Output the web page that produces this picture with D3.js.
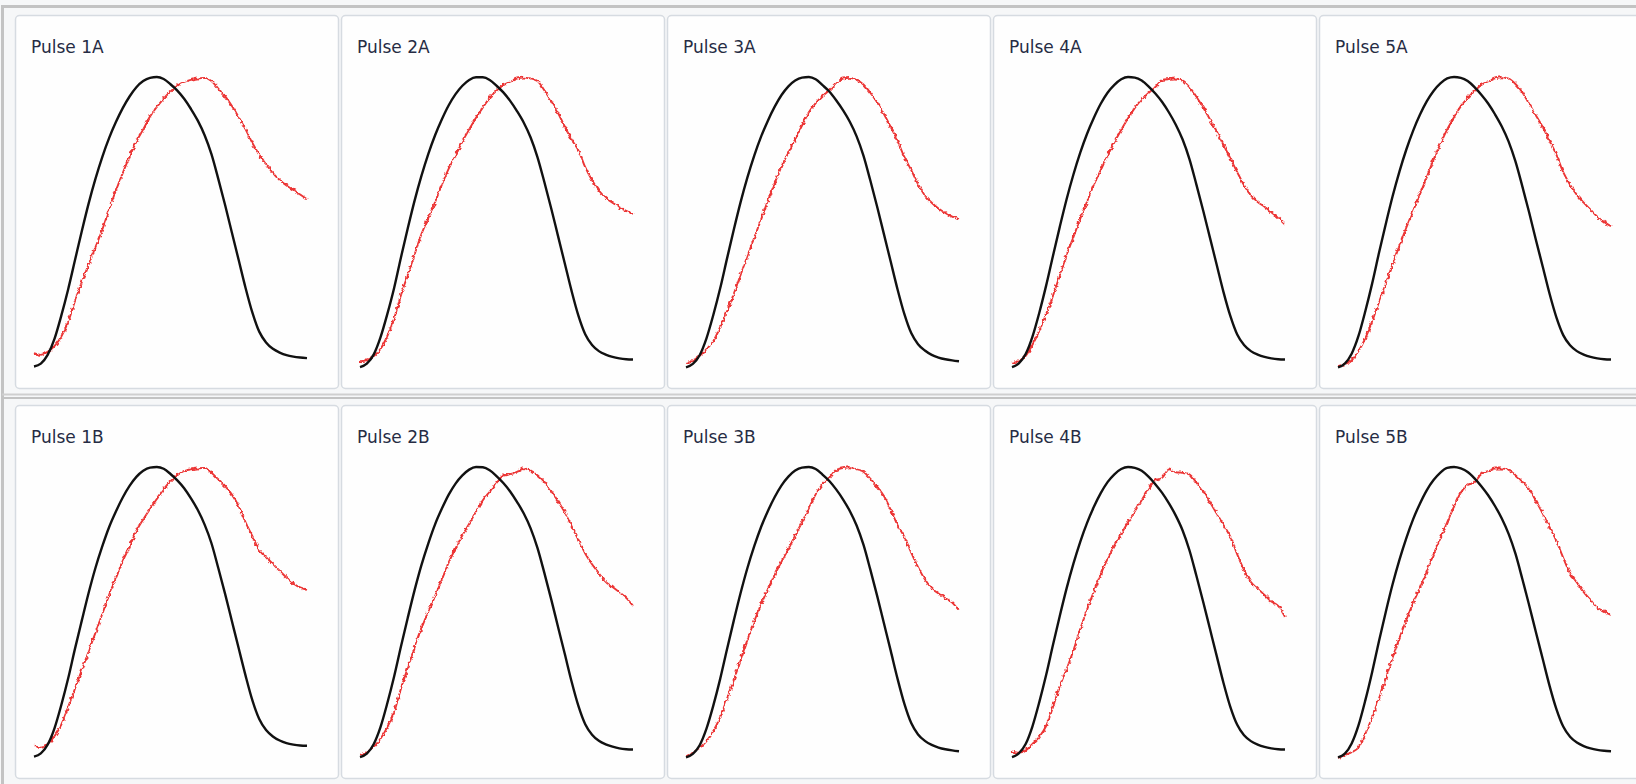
<!DOCTYPE html>
<html>
<head>
<meta charset="utf-8">
<script src="https://cdn.jsdelivr.net/npm/d3@7"></script>
<style>
  html, body { margin: 0; padding: 0; background: #f6f7f8; overflow: hidden; }
  svg { display: block; }
</style>
</head>
<body>
<svg id="chart" width="1636" height="784"></svg>
<script>
// Sample positions along each pulse (percent of the capture window)
const samples = [0,2.5,5,7.5,10,12.5,15,17.5,20,22.5,25,27.5,30,32.5,35,37.5,40,42.5,45,47.5,
                 50,52.5,55,57.5,60,62.5,65,67.5,70,72.5,75,77.5,80,82.5,85,87.5,90,92.5,95,97.5,100];

const panelNames = ["Pulse 1A","Pulse 2A","Pulse 3A","Pulse 4A","Pulse 5A",
                    "Pulse 1B","Pulse 2B","Pulse 3B","Pulse 4B","Pulse 5B"];

// Reference pulse (black), normalised amplitude 0–100
const black1A = [0.5,1.5,4.5,10,18,27,37,47,56.5,65,72.5,79,84.5,89.3,93.3,96.5,98.6,99.7,100,99.3,97.5,95.3,92.5,89,85,80,73.5,65,56,46.5,37,27.5,19,12.5,8.8,6.6,5.3,4.4,3.9,3.6,3.4];
const black2A = [0.3,1.5,4.6,10.5,18.5,27.5,38,48,57.5,66,73.5,80,85.5,90.3,94.1,97,99,99.9,99.9,99,97,94.7,91.8,88.3,84.3,79.2,72.5,64,55,45.5,36,26.5,18,11.6,7.9,5.8,4.6,3.8,3.3,3.0,2.9];
const black3A = [0.2,1.4,4.4,10.2,18.2,27.3,37.5,47.5,57,65.5,73,79.5,85,89.8,93.8,96.8,98.8,99.8,100,99.2,97.2,95,92,88.6,84.6,79.6,73,64.5,55.5,46,36.5,27,18.5,12,8.2,6,4.5,3.6,3,2.6,2.3];
const black4A = [0.3,1.6,4.8,10.8,19,28.3,38.5,48.5,58,66.5,74,80.5,86,90.8,94.6,97.3,99.2,100,99.8,98.8,96.8,94.3,91.4,87.8,83.6,78.5,71.8,63.2,54.2,44.8,35.4,26,17.8,11.5,7.9,5.8,4.6,3.8,3.3,3.0,2.9];
const black5A = [0.2,1.5,4.9,11,19.5,29,39.5,49.5,59,67.5,75,81.5,87,91.6,95.2,97.8,99.5,100,99.7,98.6,96.5,93.9,90.9,87.2,83,77.8,71,62.5,53.5,44,34.8,25.5,17.4,11.3,7.8,5.8,4.6,3.8,3.3,3.0,2.9];
const black1B = [0.5,1.6,4.6,10.2,18.2,27.3,37.5,47.2,56.7,65.3,72.7,79.3,84.7,89.5,93.5,96.6,98.7,99.8,100,99.4,97.6,95.4,92.7,89.2,85.2,80.2,73.8,65.3,56.4,47,37.6,28.3,19.8,13.4,9.6,7.4,6,5.1,4.6,4.3,4.2];
const black2B = [0.3,1.5,4.7,10.6,18.8,28,38.3,48.2,57.7,66.3,73.7,80.3,85.7,90.5,94.3,97.1,99.1,100,99.9,98.9,96.9,94.5,91.6,88,84,78.9,72.2,63.7,54.7,45.2,35.8,26.3,17.9,11.6,8,5.9,4.7,3.9,3.3,3.0,2.9];
const black3B = [0.2,1.4,4.4,10.1,18,27.1,37.3,47.2,56.7,65.3,72.8,79.4,84.9,89.7,93.7,96.7,98.8,99.8,100,99.3,97.4,95.2,92.3,88.9,84.9,79.9,73.3,64.8,55.8,46.3,36.8,27.2,18.6,12,8.1,5.9,4.5,3.6,3,2.6,2.3];
const black4B = [0.3,1.6,4.8,10.9,19.2,28.5,38.8,48.8,58.3,66.8,74.3,80.8,86.3,91,94.8,97.5,99.3,100,99.7,98.7,96.7,94.1,91.1,87.5,83.3,78.2,71.4,62.8,53.8,44.4,35,25.7,17.5,11.4,7.8,5.8,4.6,3.8,3.3,3.0,2.9];
const black5B = [0.2,1.5,5,11.2,19.8,29.5,40.1,50.2,59.7,68.1,75.5,82,87.4,92,95.5,98.1,99.7,100,99.5,98.3,96.1,93.4,90.3,86.6,82.3,77,70.2,61.6,52.6,43.2,34,24.8,16.8,10.8,7.3,5.3,4.1,3.3,2.8,2.5,2.3];

// Measured response (red), normalised amplitude 0–100
const red1A = [5.1,4.5,5.6,7.5,10.8,15.8,23,29.5,35.5,41.5,47.5,54.5,61,67,72.6,77.8,82,86.4,89.7,92.6,95,97,98.3,99,99.5,99.7,98.6,96,93.4,90,86.2,82,77.3,73.3,70,67,64.6,62.7,61.2,59.6,58];
const red2A = [2.3,2.7,4,6.5,11,17,25,32,39,46,51.5,57,63,68.5,73,77.8,82,86,89.5,92.8,95.3,97.2,98.4,99.5,99.8,99.5,98.6,95.5,91.8,87.7,83,78.5,74.8,69,64.5,61,58.5,56.8,55.2,54,53];
const red3A = [1.7,2.5,4.2,6.5,9.2,14,19.4,25.5,32,38.5,44.8,51,57.5,63.5,69.3,74,78.6,83.3,87.9,91,93.5,95.4,97.7,99.5,99.7,99,97.4,94.6,91.3,87.3,82.8,78,72.5,68,63.2,59.3,56.8,54.8,53.3,52,51];
const red4A = [1.7,2.4,4.2,8,12.8,18.5,24.8,31.8,38.8,45,51.3,57.2,63,68,73,77.6,81.8,85.8,89.4,92.3,94.5,96.5,99,99.3,99.5,98.6,96.5,93.3,89.5,85.5,81.3,76.6,72,67.3,62.8,59.3,57,55.4,53.5,51.5,49.3];
const red5A = [0.6,1.4,2.6,5.8,10.2,16,22.6,29,35.6,42,48.2,54,59.7,65.5,71.6,77,82,86.2,90,92.8,95.2,97.3,98.5,99.5,99.9,99.4,97.6,94.8,90.8,86.8,82.8,78,73.3,67.3,63,59.5,56.8,54.4,52,50.2,48.7];
const red1B = [4.6,3.5,4.8,7.5,11.5,17.5,23.8,30.2,36.6,43,49.5,56,61.8,67.7,72.6,78,82,85.6,89,92.4,95.1,97.2,98.7,99.2,99.5,99.7,98,95.8,93.5,90.5,86.5,81,76.2,71.4,69,66.7,64.3,62,60,58.6,57.8];
const red2B = [1.1,2,3.8,6.6,10.6,15.8,23.8,31,38,44.5,50.3,55.6,61.3,67.2,72,76.5,80.5,84.7,88.6,91.5,94.5,97,97.5,98.3,99.6,98.6,97.2,95,91.8,88.3,84.4,79.7,75,70.3,66.6,63.5,60.5,58.8,57,55,52.3];
const red3B = [0.6,1.8,3.5,5.8,9.3,14,20.3,26.7,33.8,40.6,47,52.8,58,63,67.5,71.8,76.5,81,85.8,90.6,94,96.3,99,99.6,99.9,99.2,98.4,96,93.3,90,85.3,80,76,70.6,65.6,61.4,58.3,56.5,54.9,53.4,50.7];
const red4B = [2.3,1.8,2.6,4.8,7.3,11,17.5,24.8,30.5,37,44.3,51,57.3,63.2,68.4,73,77,81,84.8,88.6,92.5,95.5,96.3,99.2,98.2,98,97.5,94.7,91.8,88,84,80,76,70,64.6,60.5,58.2,56,53.8,52.3,48.5];
const red5B = [0,1,2,3.6,8.3,14,20.4,27.4,34.5,41.2,47.4,53.2,58.5,64,70,75.5,81,86.4,91.2,93.8,94.7,97.6,98.6,99.5,99.5,99,97.2,95,92.5,88.4,84,79.3,74.6,68.8,63.5,60.3,57,54.3,51.6,50.3,49.2];

const blackSeries = [black1A, black2A, black3A, black4A, black5A, black1B, black2B, black3B, black4B, black5B];
const redSeries   = [red1A, red2A, red3A, red4A, red5A, red1B, red2B, red3B, red4B, red5B];

// ---- layout ----
const W = 1636, H = 784;
const colX = [15, 341, 667, 993, 1319];
const rowY = [15, 405];
const panelW = 323, panelH = 373;
const plotLeft = 19, plotRight = 292, plotTop = 62, plotBottom = 353;

const svg = d3.select("#chart");

// roughness for the noisy measured trace
const defs = svg.append("defs");
const f = defs.append("filter").attr("id", "rough")
  .attr("x", "-3%").attr("y", "-3%").attr("width", "106%").attr("height", "106%");
f.append("feTurbulence").attr("type", "fractalNoise").attr("baseFrequency", 0.28)
  .attr("numOctaves", 2).attr("seed", 7).attr("result", "noise");
f.append("feDisplacementMap").attr("in", "SourceGraphic").attr("in2", "noise")
  .attr("scale", 4).attr("xChannelSelector", "R").attr("yChannelSelector", "G");

// background and group frame
svg.append("rect").attr("width", W).attr("height", H).attr("fill", "#f6f7f8");
svg.append("rect").attr("x", 2.5).attr("y", 6.5).attr("width", W + 10).attr("height", H)
  .attr("fill", "none").attr("stroke", "#c3c3c3").attr("stroke-width", 3);
svg.append("line").attr("x1", 2).attr("x2", W).attr("y1", 394.5).attr("y2", 394.5)
  .attr("stroke", "#cfcfcf").attr("stroke-width", 2);
svg.append("line").attr("x1", 2).attr("x2", W).attr("y1", 398).attr("y2", 398)
  .attr("stroke", "#c3c3c3").attr("stroke-width", 2);

const x = d3.scaleLinear().domain([0, 100]).range([plotLeft, plotRight]);
const y = d3.scaleLinear().domain([0, 100]).range([plotBottom, plotTop]);

const line = d3.line()
  .x((d, i) => x(samples[i]))
  .y(d => y(d))
  .curve(d3.curveMonotoneX);

panelNames.forEach((name, k) => {
  const col = k % 5, row = Math.floor(k / 5);
  const g = svg.append("g").attr("transform", `translate(${colX[col]},${rowY[row]})`);

  g.append("rect")
    .attr("x", 0.5).attr("y", 0.5)
    .attr("width", panelW).attr("height", panelH)
    .attr("rx", 4).attr("ry", 4)
    .attr("fill", "#fefefe")
    .attr("stroke", "#d6dbe1").attr("stroke-width", 1.5);

  g.append("text")
    .attr("x", 16).attr("y", 38)
    .attr("font-family", "'DejaVu Sans', sans-serif")
    .attr("font-size", 17)
    .attr("fill", "#262c44")
    .text(name);

  g.append("path")
    .datum(redSeries[k])
    .attr("d", line)
    .attr("fill", "none")
    .attr("stroke", "#ec3535")
    .attr("stroke-width", 1.9)
    .attr("stroke-linejoin", "round")
    .attr("filter", "url(#rough)");

  g.append("path")
    .datum(blackSeries[k])
    .attr("d", line)
    .attr("fill", "none")
    .attr("stroke", "#111111")
    .attr("stroke-width", 2.4)
    .attr("stroke-linejoin", "round");
});
</script>
</body>
</html>
